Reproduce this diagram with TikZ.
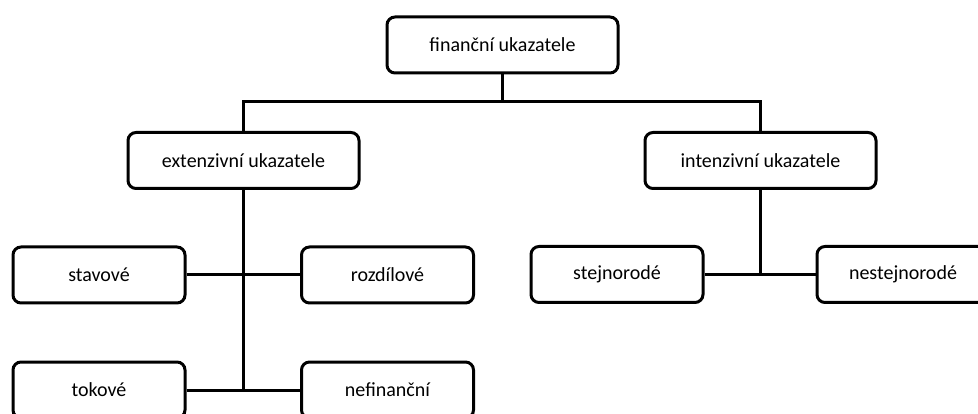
\documentclass[tikz,border=0pt]{standalone}
\usepackage{fontspec}
\setmainfont{Carlito}
\begin{document}
\begin{tikzpicture}[x=1pt,y=-1pt,
  box/.style={draw=black,line width=3pt,rounded corners=8pt,fill=white,
    minimum height=56pt,inner sep=0pt,font=\fontsize{20}{24}\selectfont},
  wide/.style={box,minimum width=231pt},
  small/.style={box,minimum width=172pt},
  conn/.style={draw=black,line width=3pt}]
\useasboundingbox (0,0) rectangle (978,414);
\clip (0,0) rectangle (978,414);
\node[wide] (top) at (502.5,45) {finanční ukazatele};
\node[wide] (ext) at (243.5,160.5) {extenzivní ukazatele};
\node[wide] (int) at (760.5,160.5) {intenzivní ukazatele};
\node[small] (stav) at (99,275) {stavové};
\node[small] (rozd) at (387.5,275) {rozdílové};
\node[small] (tok) at (99,390) {tokové};
\node[small] (nef) at (387.5,390) {nefinanční};
\node[small] (stej) at (617,274.5) {stejnorodé};
\node[small] (nest) at (903,274.5) {nestejnorodé};
\coordinate (bus) at (502.5,102);
\begin{scope}[on background layer/.style={}]
\path[conn] (top.south) -- (bus);
\path[conn] (ext.north) |- (bus) -| (int.north);
\path[conn] (ext.south) -- (ext.south |- tok.east);
\path[conn] (stav.east) -- (rozd.west);
\path[conn] (tok.east) -- (nef.west);
\path[conn] (int.south) -- (int.south |- stej.east);
\path[conn] (stej.east) -- (nest.west);
\end{scope}
\end{tikzpicture}
\end{document}
